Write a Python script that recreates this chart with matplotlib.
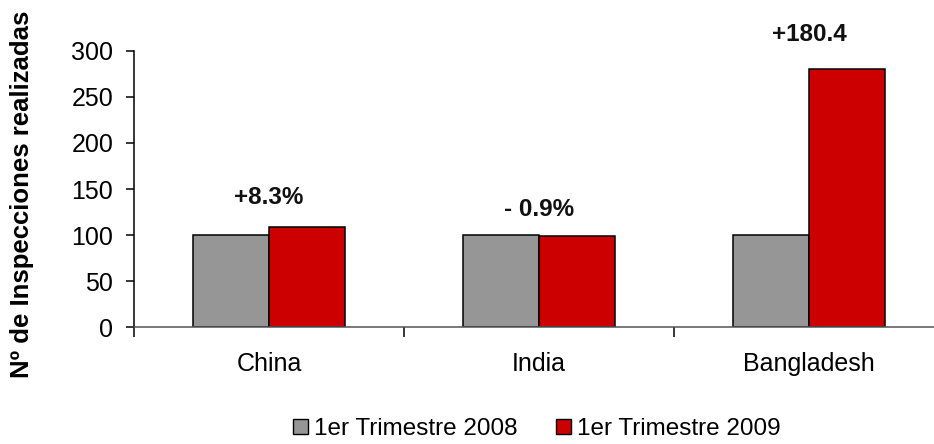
import numpy as np
import matplotlib
matplotlib.use('Agg')
from matplotlib import pyplot as plt
from matplotlib.patches import Patch

plt.rcParams['font.family'] = ['Liberation Sans', 'DejaVu Sans']

paises = ['China', 'India', 'Bangladesh']
trim_2008 = [100, 100, 100]
trim_2009 = [108.3, 99.1, 280.4]
variacion = ['+8.3%', '- 0.9%', '+180.4']
desfase = [32, 28, 37]   # altura del texto sobre la barra mas alta
series = ['1er Trimestre 2008', '1er Trimestre 2009']

gris = '#969696'
rojo = '#CC0000'

fig = plt.figure(figsize=(9.34, 4.44), dpi=100)
ax = fig.add_axes([134/934, 117/444, 810/934, 276/444])

x = np.arange(len(paises))
ancho = 0.2815
ax.bar(x - ancho/2, trim_2008, ancho, color=gris, edgecolor='black', linewidth=1.1)
ax.bar(x + ancho/2, trim_2009, ancho, color=rojo, edgecolor='black', linewidth=1.1)

for i in range(len(paises)):
    ax.text(x[i], max(trim_2008[i], trim_2009[i]) + desfase[i], variacion[i],
            ha='center', va='center', fontsize=17.5, fontweight='bold', color='#111111')

ax.set_xlim(-0.5, 2.5)
ax.set_ylim(0, 300)
ax.set_yticks(range(0, 301, 50))
ax.set_xticks([-0.5, 0.5, 1.5])
ax.set_xticklabels([])
ax.set_xticks(x, minor=True)
ax.set_xticklabels(paises, minor=True)
ax.tick_params(axis='x', which='minor', length=0, pad=18, labelsize=18)
ax.tick_params(axis='x', which='major', length=7, width=1.1, direction='out')
ax.tick_params(axis='y', length=6, width=1.1, direction='out', labelsize=18, pad=9)
for s in ['top', 'right']:
    ax.spines[s].set_visible(False)
ax.spines['left'].set_linewidth(1.1)
ax.spines['bottom'].set_linewidth(1.1)
ax.spines['bottom'].set_color('#555555')

fig.text(22/934, 1 - 194/444, 'Nº de Inspecciones realizadas', rotation=90,
         ha='center', va='center', fontsize=18.5, fontweight='bold')

handles = [Patch(facecolor=gris, edgecolor='black'), Patch(facecolor=rojo, edgecolor='black')]
fig.legend(handles, series, loc='center', bbox_to_anchor=(537/934, 1 - 429/444),
           ncol=2, frameon=False, fontsize=17.5, handlelength=0.6, handleheight=0.6,
           handletextpad=0.25, columnspacing=1.6, borderpad=0, borderaxespad=0)

plt.savefig('out.png', dpi=100)
